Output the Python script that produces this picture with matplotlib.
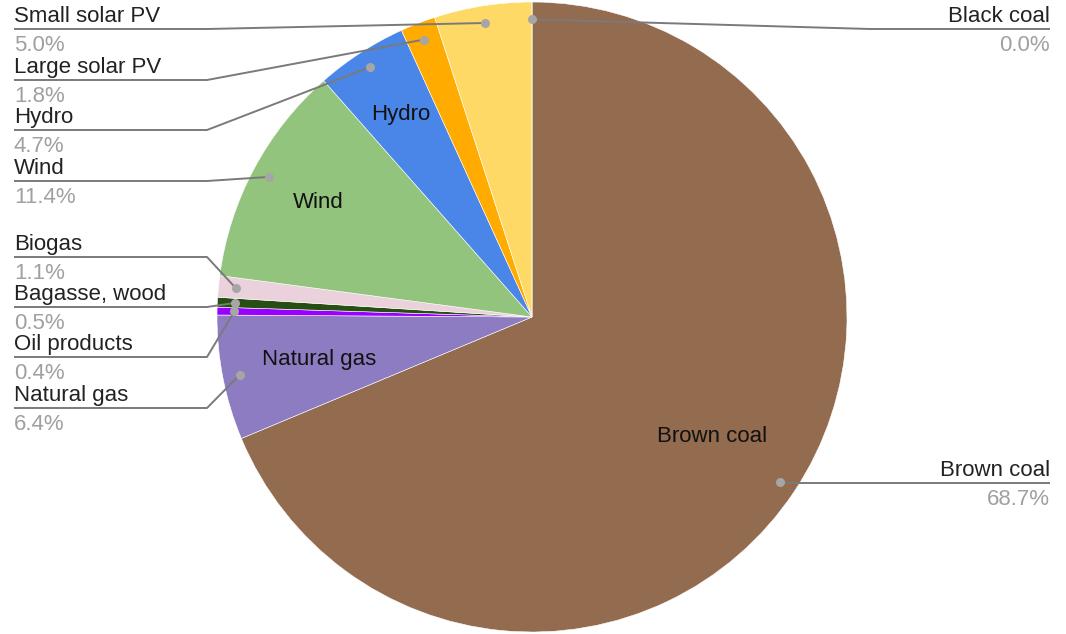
import numpy as np
import matplotlib.pyplot as plt

plt.rcParams['font.family'] = ['Liberation Sans', 'DejaVu Sans']

sources = ['Brown coal', 'Natural gas', 'Oil products', 'Bagasse, wood', 'Biogas',
           'Wind', 'Hydro', 'Large solar PV', 'Small solar PV', 'Black coal']
shares = [68.7, 6.4, 0.4, 0.5, 1.1, 11.4, 4.7, 1.8, 5.0, 0.0]
colors = ['#936b4f', '#8e7cc3', '#9900ff', '#274e13', '#ead1dc',
          '#93c47d', '#4a86e8', '#ffab00', '#ffd966', '#000000']
# slices big enough to carry their own name
inside = {'Brown coal': 0.685, 'Natural gas': 0.69, 'Wind': 0.77, 'Hydro': 0.765}

W, H = 1066, 634
CX, CY, R = 532, 317, 315
FS = 16

fig = plt.figure(figsize=(W / 100, H / 100), dpi=100)
ax = fig.add_axes([0, 0, 1, 1])

wedges, _ = ax.pie(shares, colors=colors, startangle=90, counterclock=False,
                   center=(CX, CY), radius=R,
                   wedgeprops=dict(edgecolor='white', linewidth=0.4))
# pie() sets its own limits, so fix the canvas afterwards
ax.set_xlim(0, W)
ax.set_ylim(0, H)
ax.set_aspect('equal')
ax.axis('off')


def top(y):
    # pixel rows counted from the top edge
    return H - y


def point_at(w, frac):
    ang = np.deg2rad((w.theta1 + w.theta2) / 2)
    return CX + frac * R * np.cos(ang), CY + frac * R * np.sin(ang)


for w, name in zip(wedges, sources):
    if name in inside:
        x, y = point_at(w, inside[name])
        ax.text(x, y, name, fontsize=FS, color='#111111', ha='center', va='center')

# leader line layout: (side, line row, elbow x)
layout = {
    'Small solar PV': ('left', 29, 207),
    'Large solar PV': ('left', 80, 207),
    'Hydro': ('left', 130, 207),
    'Wind': ('left', 181, 207),
    'Biogas': ('left', 257, 207),
    'Bagasse, wood': ('left', 307, 207),
    'Oil products': ('left', 357, 207),
    'Natural gas': ('left', 408, 207),
    'Black coal': ('right', 29, 870),
    'Brown coal': ('right', 483, None),
}

for w, name, val in zip(wedges, sources, shares):
    side, row, ex = layout[name]
    dx, dy = point_at(w, 0.945)
    ly = top(row)
    end = 14 if side == 'left' else 1050
    if ex is None:
        ex = dx
    ax.plot([dx, ex, end], [dy, ly, ly], color='#7a7a7a', lw=1.4,
            solid_capstyle='butt', zorder=3)
    ax.plot(dx, dy, 'o', ms=6.5, color='#a6a6a6', mec='none', zorder=4)
    ha = 'left' if side == 'left' else 'right'
    ax.text(end, ly + 7, name, fontsize=FS, color='#222222', ha=ha, va='baseline')
    ax.text(end, ly - 6, f'{val:.1f}%', fontsize=FS, color='#a0a0a0', ha=ha, va='top')

fig.savefig('out.png', dpi=100)
